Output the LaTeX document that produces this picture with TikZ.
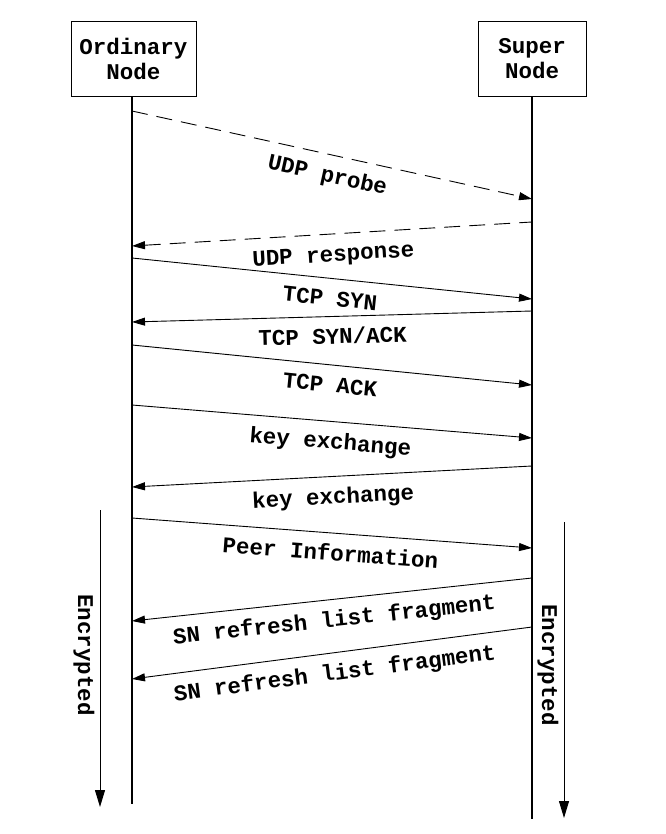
\documentclass[tikz,border=0pt]{standalone}
\usepackage{fontspec}
\newfontfamily\cour{Liberation Mono}
\usetikzlibrary{arrows.meta,calc}
\begin{document}
\begin{tikzpicture}[x=1pt,y=-1pt,
  every node/.style={font=\cour\bfseries\fontsize{22.5}{25}\selectfont},
  actor/.style={draw, line width=0.9pt, minimum height=75pt, align=center, inner sep=0pt},
  life/.style={line width=2pt},
  msg/.style={line width=0.9pt},
  tipR/.style={-{Triangle[length=13pt,width=8pt]}},
  tipL/.style={{Triangle[length=13pt,width=8pt]}-},
  dashline/.style={dash pattern=on 16pt off 9pt},
  lbl/.style={sloped, below=13pt, inner sep=0pt, text height=14pt, text depth=4pt},
  encarrow/.style={line width=1pt, -{Triangle[length=17pt,width=10pt]}}
]
\useasboundingbox (0,0) rectangle (665,834);

% actors
\node[actor, minimum width=125pt] (on) at (133.5,58.5) {Ordinary\\Node};
\node[actor, minimum width=108pt] (sn) at (532,58.5) {Super\\Node};

% lifelines
\coordinate (oend) at (132,804);
\coordinate (send) at (532,819);
\draw[life] (on.south -| oend) -- (oend);
\draw[life] (sn.south) -- (send);

% message end points
\coordinate (o1) at (132,111); \coordinate (s1) at (532,199);
\coordinate (o2) at (132,246); \coordinate (s2) at (532,222);
\coordinate (o3) at (132,258); \coordinate (s3) at (532,299);
\coordinate (o4) at (132,322); \coordinate (s4) at (532,311);
\coordinate (o5) at (132,345); \coordinate (s5) at (532,385);
\coordinate (o6) at (132,405); \coordinate (s6) at (532,438);
\coordinate (o7) at (132,487); \coordinate (s7) at (532,466);
\coordinate (o8) at (132,518); \coordinate (s8) at (532,548);
\coordinate (o9) at (132,621); \coordinate (s9) at (532,578);
\coordinate (o10) at (132,679); \coordinate (s10) at (532,627);

% messages
\draw[msg, dashline, tipR] (o1) -- node[lbl] (l1) {UDP probe} (s1);
\draw[msg, dashline, tipL] (o2) -- node[lbl] (l2) {UDP response} (s2);
\draw[msg, tipR] (o3) -- node[lbl] (l3) {TCP SYN} (s3);
\draw[msg, tipL] (o4) -- node[lbl] (l4) {TCP SYN/ACK} (s4);
\draw[msg, tipR] (o5) -- node[lbl] (l5) {TCP ACK} (s5);
\draw[msg, tipR] (o6) -- node[lbl] (l6) {key exchange} (s6);
\draw[msg, tipL] (o7) -- node[lbl] (l7) {key exchange} (s7);
\draw[msg, tipR] (o8) -- node[lbl] (l8) {Peer Information} (s8);
\draw[msg, tipL] (o9) -- node[lbl] (l9) {SN refresh list fragment} (s9);
\draw[msg, tipL] (o10) -- node[lbl] (l10) {SN refresh list fragment} (s10);

% encrypted spans
\coordinate (e1s) at (100,510); \coordinate (e1e) at (100,807);
\coordinate (e2s) at (564,522); \coordinate (e2e) at (564,818);
\draw[encarrow] (e1s) -- (e1e);
\draw[encarrow] (e2s) -- (e2e);
\node[rotate=-90] (enc1) at (84,655) {Encrypted};
\node[rotate=-90] (enc2) at (548,665) {Encrypted};
\end{tikzpicture}
\end{document}
